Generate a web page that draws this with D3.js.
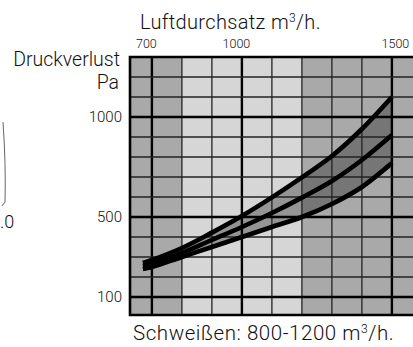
<!DOCTYPE html>
<html>
<head>
<meta charset="utf-8">
<script src="https://cdn.jsdelivr.net/npm/d3@7"></script>
<style>
  html, body { margin: 0; padding: 0; background: #fff; }
  svg { display: block; }
  text { font-family: "Roboto", "Noto Sans", sans-serif; font-weight: 300; fill: #111; }
</style>
</head>
<body>
<svg id="chart" width="413" height="347"></svg>
<script>
// Airflow (m³/h) against pressure loss (Pa)
const flow   = [670, 700, 800, 900, 1000, 1100, 1200, 1300, 1400, 1500];
const upper  = [270, 285, 345, 422, 505, 598, 698, 805, 940, 1100];
const middle = [255, 265, 320, 385, 450, 520, 597, 680, 785, 910];
const lower  = [240, 250, 300, 350, 400, 450, 500, 565, 650, 770];

// Flow ranges shaded behind the grid; the light one is the welding range
const bandStart = [627, 800, 1200];
const bandEnd   = [800, 1200, 1600];
const bandTone  = ["mid", "light", "mid"];

const xTicks = [700, 1000, 1500];
const yTicks = [100, 500, 1000];
const xGrid  = [700, 800, 900, 1000, 1100, 1200, 1300, 1400, 1500, 1600];
const yGrid  = [100, 200, 300, 400, 500, 600, 700, 800, 900, 1000, 1100, 1200];

const svg = d3.select("#chart");

const x = d3.scaleLinear().domain([627, 1600]).range([130, 421.9]);
const y = d3.scaleLinear().domain([10, 1300]).range([315, 57]);

const tones = { mid: "#a9a9a9", light: "#d6d6d6" };

// Background bands
svg.append("g").selectAll("rect")
  .data(bandStart)
  .join("rect")
  .attr("x", (d) => x(d))
  .attr("y", y(1300))
  .attr("width", (d, i) => x(bandEnd[i]) - x(d))
  .attr("height", y(10) - y(1300))
  .attr("fill", (d, i) => tones[bandTone[i]]);

// Shaded spread between the outer curves
const pts = flow.map((f, i) => ({ f, u: upper[i], m: middle[i], l: lower[i] }));
const curve = d3.curveCatmullRom.alpha(0.5);
svg.append("path")
  .datum(pts)
  .attr("d", d3.area().x((d) => x(d.f)).y0((d) => y(d.l)).y1((d) => y(d.u)).curve(curve))
  .attr("fill", "rgba(0,0,0,0.3)");

// Grid
const thickX = new Set(xTicks);
const thickY = new Set(yTicks);
const grid = svg.append("g");
grid.selectAll("line.v")
  .data(xGrid)
  .join("line")
  .attr("class", "v")
  .attr("x1", (d) => x(d)).attr("x2", (d) => x(d))
  .attr("y1", y(1300)).attr("y2", y(10))
  .attr("stroke", (d) => thickX.has(d) ? "#000" : "#222")
  .attr("stroke-width", (d) => thickX.has(d) ? 2.4 : 1.3);
grid.selectAll("line.h")
  .data(yGrid)
  .join("line")
  .attr("class", "h")
  .attr("x1", x(627)).attr("x2", 413)
  .attr("y1", (d) => y(d)).attr("y2", (d) => y(d))
  .attr("stroke", (d) => thickY.has(d) ? "#000" : "#222")
  .attr("stroke-width", (d) => thickY.has(d) ? 2.4 : 1.3);

// Frame (top, left, bottom)
svg.append("path")
  .attr("d", `M413,${y(1300)} H${x(627)} V${y(10)} H413`)
  .attr("fill", "none")
  .attr("stroke", "#000")
  .attr("stroke-width", 2.6);

// Curves
const line = (key) => d3.line().x((d) => x(d.f)).y((d) => y(d[key])).curve(curve);
["u", "m", "l"].forEach((k) => {
  svg.append("path")
    .datum(pts)
    .attr("d", line(k))
    .attr("fill", "none")
    .attr("stroke", "#000")
    .attr("stroke-width", 4.6)
    .attr("stroke-linecap", "butt");
});

// Top axis labels
const xAxis = d3.axisTop(x).tickValues(xTicks).tickSize(0).tickPadding(0).tickFormat(d3.format("d"));
const gx = svg.append("g").attr("transform", "translate(0,48)").call(xAxis);
gx.select(".domain").remove();
gx.selectAll("text")
  .attr("font-size", 12.5)
  .attr("fill", "#222")
  .attr("dy", 0)
  .attr("dx", (d) => d === 1500 ? 3 : -6);

// Left axis labels
const yAxis = d3.axisLeft(y).tickValues(yTicks).tickSize(0).tickPadding(0).tickFormat(d3.format("d"));
const gy = svg.append("g").attr("transform", "translate(122,0)").call(yAxis);
gy.select(".domain").remove();
gy.selectAll("text")
  .attr("font-size", 15)
  .attr("fill", "#222");

// Titles
svg.append("text")
  .attr("x", 140).attr("y", 29)
  .attr("font-size", 20)
  .attr("letter-spacing", 0.35)
  .html('Luftdurchsatz m<tspan font-size="12" dy="-7">3</tspan><tspan dy="7">/h.</tspan>');
svg.append("text")
  .attr("x", 120).attr("y", 66)
  .attr("text-anchor", "end")
  .attr("font-size", 19.5)
  .text("Druckverlust");
svg.append("text")
  .attr("x", 119).attr("y", 89)
  .attr("text-anchor", "end")
  .attr("font-size", 19.5)
  .text("Pa");
svg.append("text")
  .attr("x", 133).attr("y", 340)
  .attr("font-size", 20.5)
  .attr("letter-spacing", 0.55)
  .html('Schweißen: 800-1200 m<tspan font-size="12" dy="-7">3</tspan><tspan dy="7">/h.</tspan>');

// Edge of the neighbouring panel
svg.append("path")
  .attr("d", "M3,122 Q6,165 5,202 L2,206")
  .attr("fill", "none")
  .attr("stroke", "#666")
  .attr("stroke-width", 1);
svg.append("text")
  .attr("x", 0).attr("y", 228)
  .attr("font-size", 18)
  .text(".0");
</script>
</body>
</html>
